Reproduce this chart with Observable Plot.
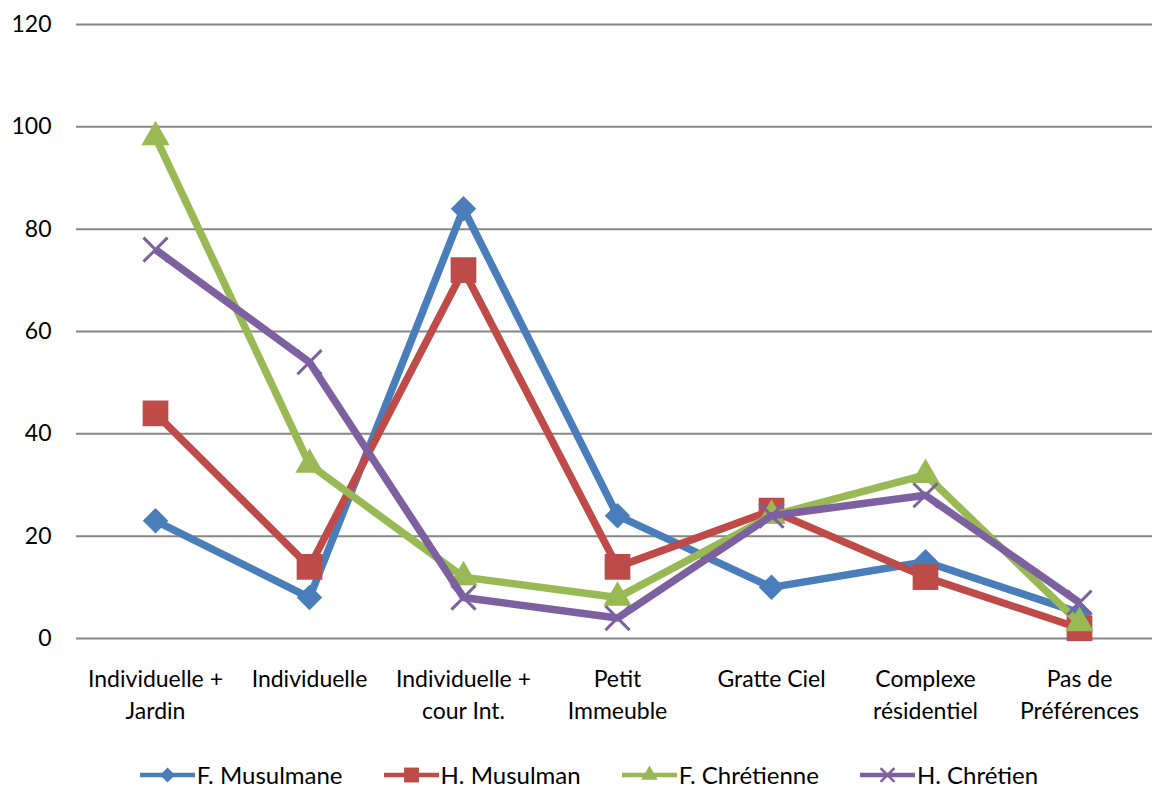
<!DOCTYPE html>
<html>
<head>
<meta charset="utf-8">
<script src="https://cdn.jsdelivr.net/npm/d3@7"></script>
<script src="https://cdn.jsdelivr.net/npm/@observablehq/plot@0.6"></script>
<style>
  html, body { margin: 0; padding: 0; background: #fff; }
  body { width: 1152px; height: 787px; overflow: hidden; font-family: Lato, "Open Sans", sans-serif; }
  #chart { height: 740px; }
  #legend { display: flex; justify-content: center; align-items: center; gap: 41px; height: 30px; margin-top: 20px; font-size: 24px; line-height: 30px; color: #000; padding-left: 26px; }
  #legend .item { display: flex; align-items: center; gap: 2px; }
  #legend svg { display: block; }
</style>
</head>
<body>
<div id="chart"></div>
<div id="legend"></div>
<script>
const categories = [
  "Individuelle +\nJardin",
  "Individuelle",
  "Individuelle +\ncour Int.",
  "Petit\nImmeuble",
  "Gratte Ciel",
  "Complexe\nrésidentiel",
  "Pas de\nPréférences"
];
const seriesNames = ["F. Musulmane", "H. Musulman", "F. Chrétienne", "H. Chrétien"];
const fMusulmane = [23, 8, 84, 24, 10, 15, 5];
const hMusulman  = [44, 14, 72, 14, 25, 12, 2];
const fChretienne = [98, 34, 12, 8, 24, 32, 3];
const hChretien  = [76, 54, 8, 4, 24, 28, 7];
const yTicks = [0, 20, 40, 60, 80, 100, 120];

const colors = ["#4A7EBB", "#BE4B48", "#98B954", "#7D60A0"];
const symbols = ["diamond2", "square", "triangle", "times"];
const radii = [11.5, 14.5, 10.5, 11];
const allValues = [fMusulmane, hMusulman, fChretienne, hChretien];

const series = seriesNames.map((name, i) => ({
  name, color: colors[i], symbol: symbols[i], r: radii[i],
  data: categories.map((c, j) => ({cat: c, value: allValues[i][j], series: name}))
}));

const marks = [
  Plot.gridY(yTicks, {stroke: "#868686", strokeOpacity: 1, strokeWidth: 2}),
  Plot.axisY(yTicks, {tickSize: 0, tickPadding: 25, fontSize: 23, fill: "#000", label: null}),
  Plot.axisX({tickSize: 0, tickPadding: 25, fontSize: 23, fill: "#000", lineHeight: 1.42, label: null})
];
for (const s of series) {
  marks.push(Plot.line(s.data, {x: "cat", y: "value", stroke: s.color, strokeWidth: 7.5, strokeLinejoin: "miter", strokeLinecap: "butt"}));
  if (s.symbol === "times") {
    marks.push(Plot.dot(s.data, {x: "cat", y: "value", symbol: s.symbol, r: s.r, stroke: s.color, strokeWidth: 3}));
  } else {
    marks.push(Plot.dot(s.data, {x: "cat", y: "value", symbol: s.symbol, r: s.r, fill: s.color, stroke: "none"}));
  }
}

const chart = Plot.plot({
  width: 1152,
  height: 740,
  marginTop: 24,
  marginBottom: 102,
  marginLeft: 76,
  marginRight: 0,
  style: {fontFamily: "Lato, 'Open Sans', sans-serif", fontSize: "23px", color: "#000", background: "#fff"},
  x: {type: "point", domain: categories, range: [153, 1080], padding: 0, label: null},
  y: {domain: [0, 120], label: null},
  marks
});
chart.style.display = "block";
document.getElementById("chart").appendChild(chart);

// Legend
const legend = d3.select("#legend");
const symMap = {diamond2: d3.symbolDiamond2, square: d3.symbolSquare, triangle: d3.symbolTriangle, times: d3.symbolTimes};
for (const s of series) {
  const item = legend.append("div").attr("class", "item");
  const sv = item.append("svg").attr("width", 55).attr("height", 26);
  sv.append("line").attr("x1", 0).attr("x2", 55).attr("y1", 13).attr("y2", 13)
    .attr("stroke", s.color).attr("stroke-width", 4.5);
  const rr = s.r * 0.58;
  const path = d3.symbol(symMap[s.symbol], Math.PI * rr * rr)();
  const p = sv.append("path").attr("d", path).attr("transform", "translate(27.5,13)");
  if (s.symbol === "times") p.attr("fill", "none").attr("stroke", s.color).attr("stroke-width", 2.5);
  else p.attr("fill", s.color);
  item.append("span").text(s.name);
}
</script>
</body>
</html>
